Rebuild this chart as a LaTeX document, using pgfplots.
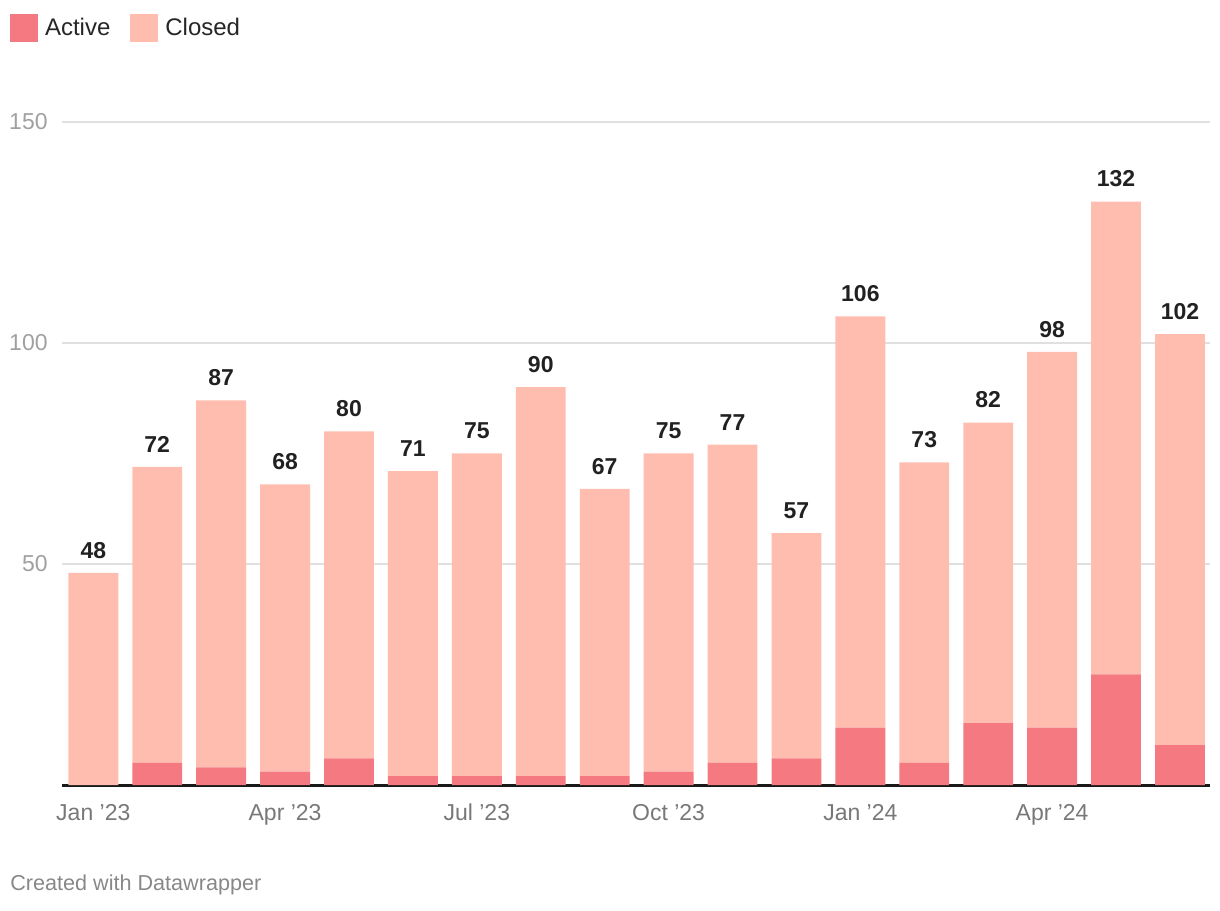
\documentclass[border=0pt]{standalone}
\usepackage{pgfplots}
\pgfplotsset{compat=1.18}
\usepackage{pgfplotstable}
\usepackage{fontspec}
\setmainfont{Liberation Sans}
\definecolor{activec}{RGB}{244,121,128}
\definecolor{closedc}{RGB}{255,189,176}
\definecolor{ytl}{RGB}{160,160,160}
\definecolor{xtl}{RGB}{120,120,120}
\definecolor{gridc}{RGB}{224,224,224}
\pgfplotstableread{
x active closed total
0 0 48 48
1 5 67 72
2 4 83 87
3 3 65 68
4 6 74 80
5 2 69 71
6 2 73 75
7 2 88 90
8 2 65 67
9 3 72 75
10 5 72 77
11 6 51 57
12 13 93 106
13 5 68 73
14 14 68 82
15 13 85 98
16 25 107 132
17 9 93 102
}\datatable
\begin{document}
\begin{tikzpicture}
\path[use as bounding box] (0,0) rectangle (610pt,455pt);
\begin{axis}[
  at={(31pt,62.5pt)}, anchor=south west,
  scale only axis, width=574pt, height=331.5pt,
  ybar stacked, bar width=0.78,
  xmin=-0.49, xmax=17.47, ymin=0, ymax=150,
  clip=false,
  xtick={0,3,6,9,12,15},
  xticklabels={Jan ’23,Apr ’23,Jul ’23,Oct ’23,Jan ’24,Apr ’24},
  ytick={50,100,150},
  major tick length=0pt,
  ymajorgrids, major grid style={gridc, line width=0.7pt},
  axis x line*=bottom, axis y line*=left,
  x axis line style={draw=black!90, line width=1.5pt, -},
  y axis line style={draw=none},
  tick label style={font=\fontsize{11.5}{13}\selectfont},
  yticklabel style={text=ytl, inner sep=0pt, xshift=-7pt, anchor=east},
  xticklabel style={text=xtl, inner sep=0pt, anchor=base, yshift=-17.5pt},
  /pgf/number format/assume math mode=true,
  legend style={at={(axis description cs:0,1)}, anchor=west, xshift=-26pt, yshift=47pt,
    draw=none, fill=none, inner sep=0pt, outer sep=0pt,
    font=\fontsize{12}{14}\selectfont, text=black!85,
    nodes={inner sep=0pt},
    /tikz/every even column/.append style={column sep=10pt}},
  legend columns=-1,
  legend image code/.code={\fill[#1] (0pt,-7pt) rectangle (14pt,7pt); \path (17.5pt,0pt);},
]
\addplot[fill=activec, draw=none] table[x=x, y=active] {\datatable};
\addlegendentry{Active}
\addplot[fill=closedc, draw=none,
  point meta=explicit,
  visualization depends on={\thisrow{closed} \as \cl},
  nodes near coords,
  nodes near coords style={font=\fontsize{11.5}{13}\selectfont\bfseries, text=black!87, inner sep=0pt, anchor=south, yshift={1.105pt*\cl+7pt}},
] table[x=x, y=closed, meta=total] {\datatable};
\addlegendentry{Closed}
\end{axis}
\node[anchor=west, inner sep=0pt, text={rgb,255:red,136;green,136;blue,136}, font=\fontsize{10.8}{12}\selectfont] at (5pt,12.5pt) {Created with Datawrapper};
\end{tikzpicture}
\end{document}
